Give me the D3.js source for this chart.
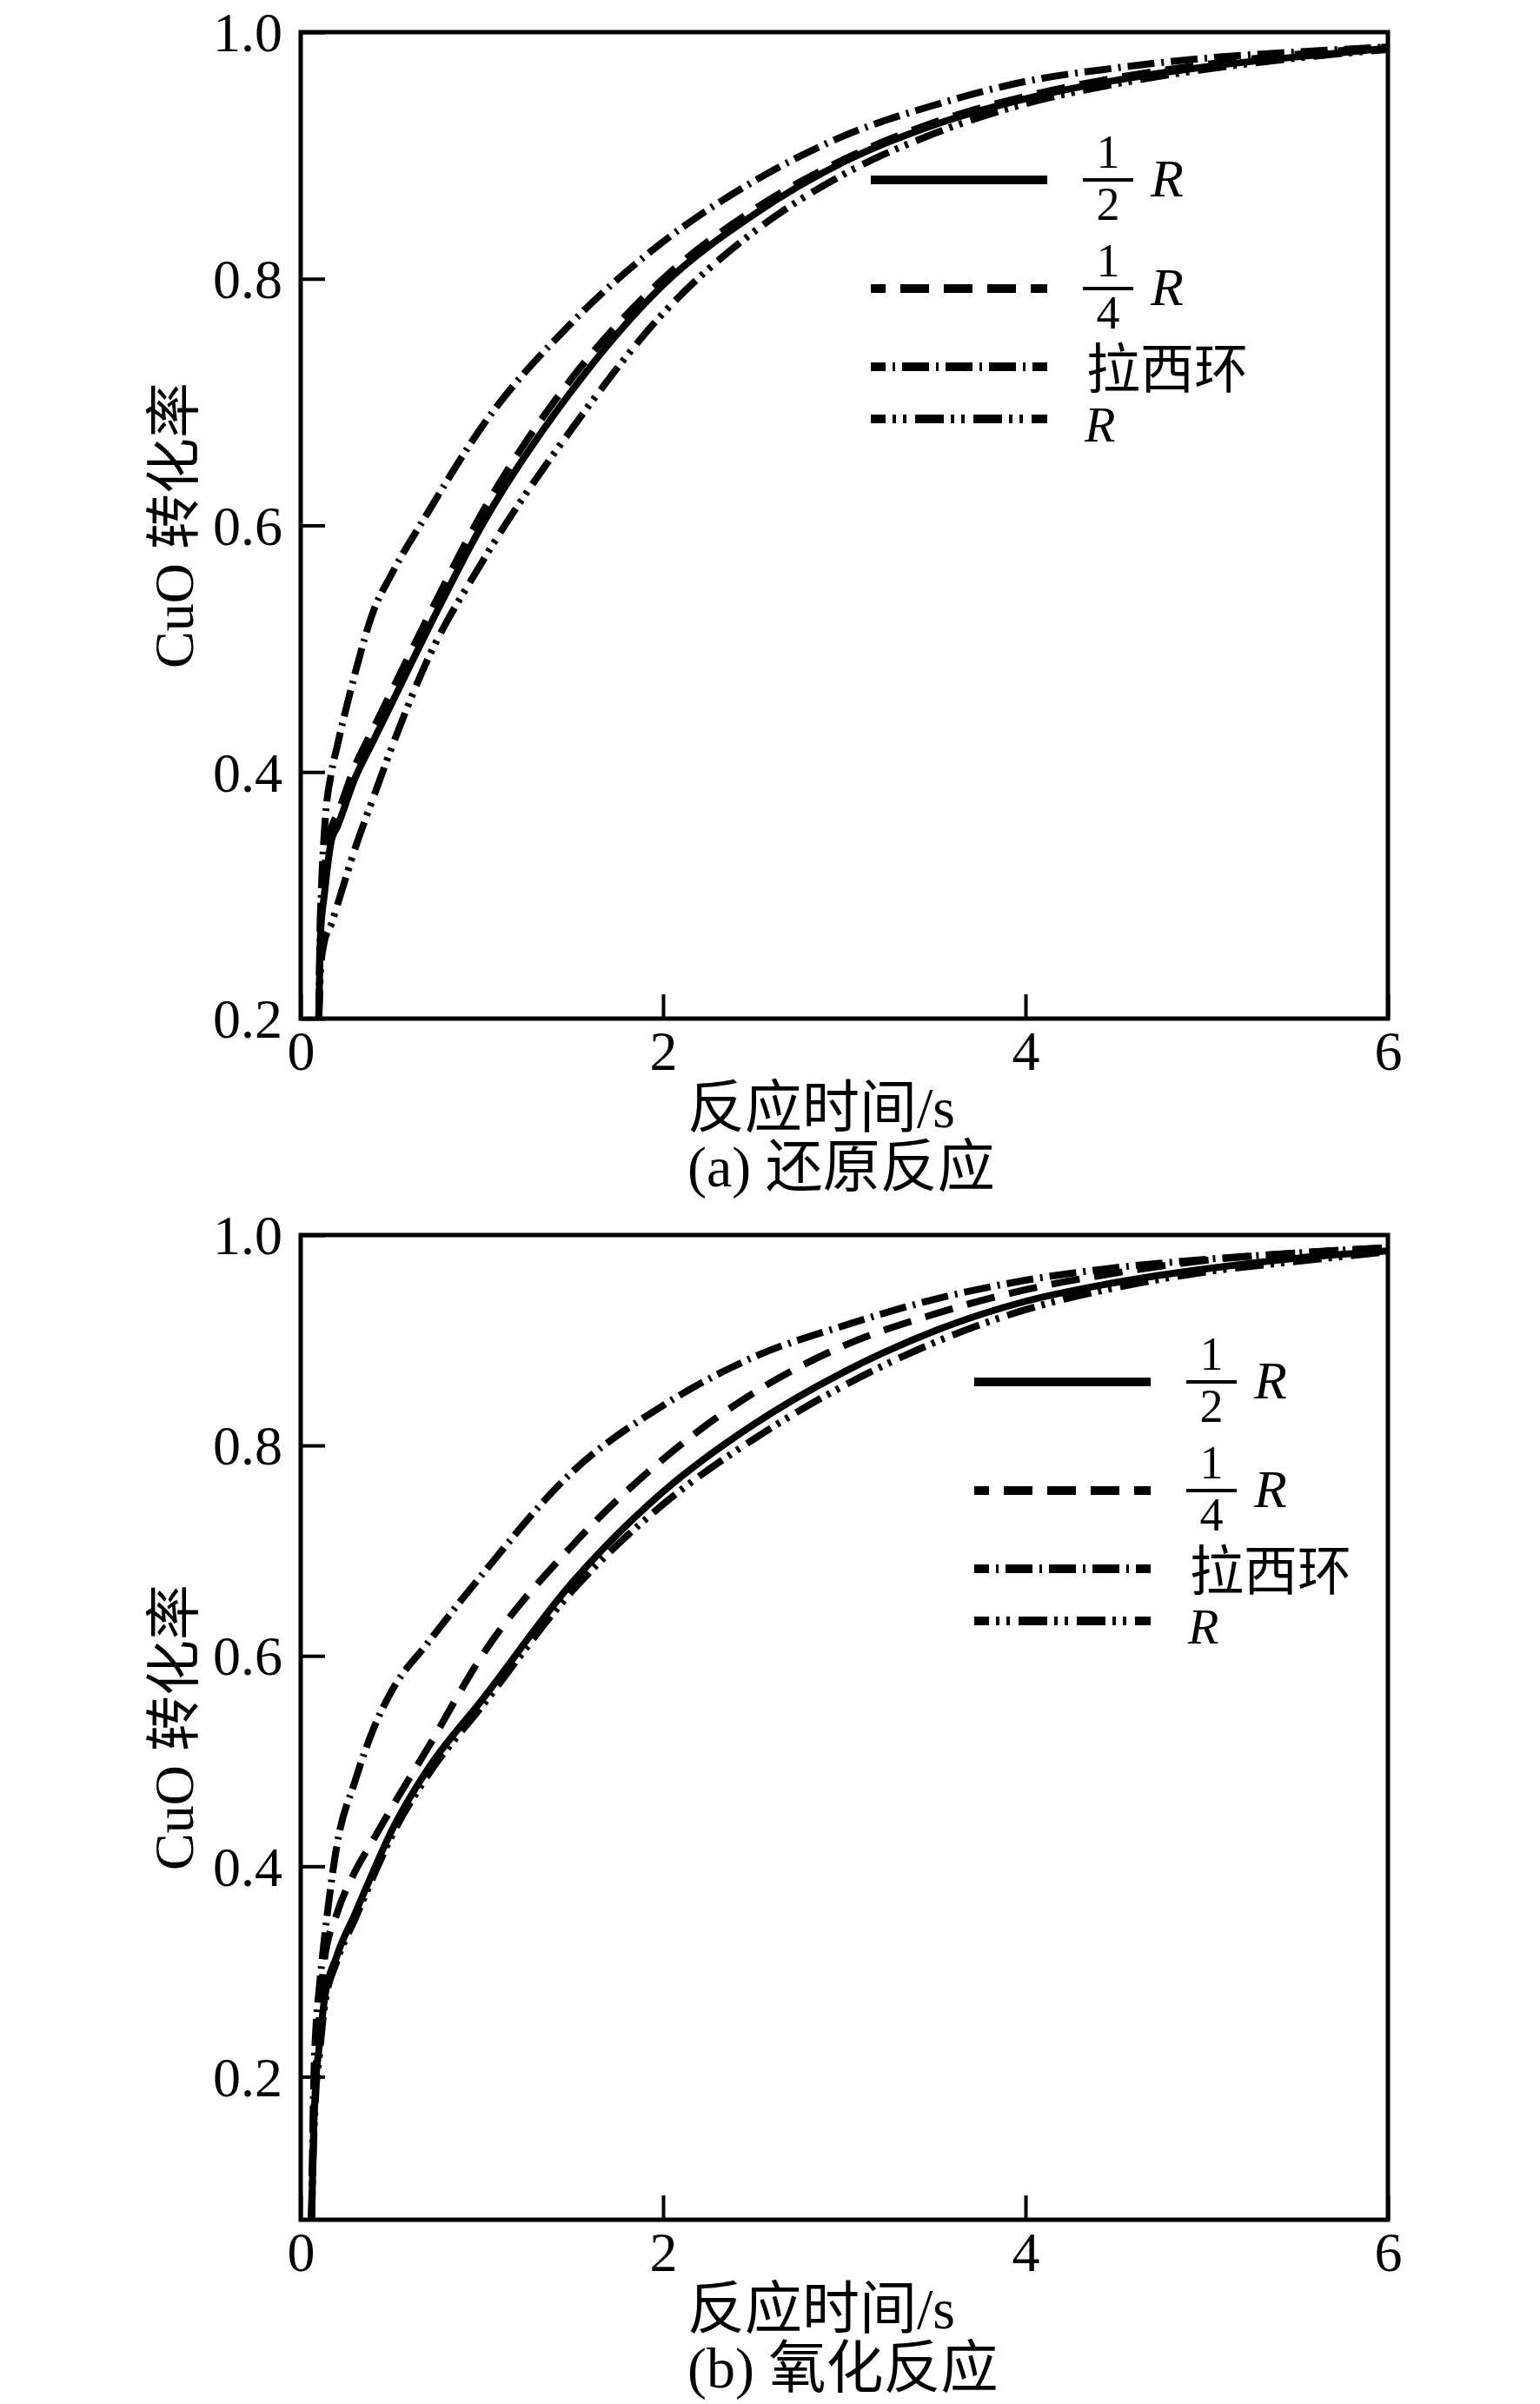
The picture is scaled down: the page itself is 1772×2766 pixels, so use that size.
<!DOCTYPE html>
<html>
<head>
<meta charset="utf-8">
<script src="https://cdn.jsdelivr.net/npm/d3@7"></script>
<style>
  body { margin: 0; background: #fff; }
  text { font-family: "Liberation Serif", "Times New Roman", "Noto Sans CJK SC", serif; fill: #000; }
</style>
</head>
<body>
<svg id="chart" width="1772" height="2766"></svg>
<script>
// ---- data ----
// (a) reduction
let timeA     = [0.1, 0.11, 0.13, 0.17, 0.2, 0.3, 0.4, 0.5, 0.7, 1.0, 1.5, 2.0, 2.5, 3.0, 3.5, 4.0, 4.5, 5.0, 5.5, 6.0];
let halfRA    = [0.2, 0.27, 0.30, 0.345, 0.355, 0.395, 0.425, 0.455, 0.515, 0.60, 0.71, 0.795, 0.852, 0.895, 0.925, 0.946, 0.961, 0.972, 0.980, 0.987];
let quarterRA = [0.2, 0.29, 0.32, 0.355, 0.365, 0.405, 0.435, 0.465, 0.525, 0.61, 0.72, 0.80, 0.856, 0.897, 0.927, 0.948, 0.963, 0.974, 0.982, 0.988];
let raschigA  = [0.2, 0.28, 0.35, 0.40, 0.42, 0.48, 0.53, 0.56, 0.61, 0.68, 0.765, 0.83, 0.879, 0.916, 0.941, 0.96, 0.971, 0.979, 0.984, 0.988];
let fullRA    = [0.2, 0.24, 0.262, 0.277, 0.291, 0.338, 0.379, 0.419, 0.491, 0.57, 0.679, 0.772, 0.838, 0.885, 0.918, 0.942, 0.958, 0.970, 0.979, 0.986];

// (b) oxidation
let timeB     = [0.06, 0.07, 0.085, 0.1, 0.13, 0.2, 0.3, 0.4, 0.5, 0.7, 1.0, 1.5, 2.0, 2.5, 3.0, 3.5, 4.0, 4.5, 5.0, 5.5, 6.0];
let halfRB    = [0.064, 0.14, 0.2, 0.225, 0.272, 0.315, 0.355, 0.395, 0.433, 0.492, 0.558, 0.67, 0.756, 0.82, 0.87, 0.909, 0.937, 0.955, 0.968, 0.978, 0.985];
let quarterRB = [0.064, 0.15, 0.21, 0.25, 0.31, 0.355, 0.395, 0.425, 0.455, 0.512, 0.60, 0.705, 0.787, 0.85, 0.895, 0.925, 0.948, 0.964, 0.976, 0.983, 0.988];
let raschigB  = [0.064, 0.18, 0.25, 0.28, 0.33, 0.42, 0.481, 0.53, 0.566, 0.612, 0.677, 0.775, 0.838, 0.884, 0.914, 0.939, 0.957, 0.969, 0.977, 0.983, 0.988];
let fullRB    = [0.064, 0.13, 0.19, 0.215, 0.265, 0.31, 0.35, 0.39, 0.428, 0.486, 0.552, 0.662, 0.744, 0.806, 0.857, 0.898, 0.929, 0.95, 0.965, 0.975, 0.984];

let xTicks = [0, 2, 4, 6];
let yTicks = [0.2, 0.4, 0.6, 0.8, 1.0];
let xLabel = "反应时间/s";
let yLabel = "CuO 转化率";
let captions = ["(a) 还原反应", "(b) 氧化反应"];

// line styles: 1/2R solid, 1/4R dashed, 拉西环 dash-dot, R dash-dot-dot
let styles = [
  { dash: null, offset: 0 },
  { dash: "33,17", offset: 16 },
  { dash: "31,8,3,8", offset: 14 },
  { dash: "33,8,4,8,4,10", offset: 16 }
];

let svg = d3.select("#chart");
let left = 346, right = 1597;

let panels = [
  { id: "a", top: 37, bottom: 1172, yMin: 0.2, time: timeA,
    series: [halfRA, quarterRA, raschigA, fullRA], legend: [1002, 207], caption: captions[0] },
  { id: "b", top: 1421, bottom: 2554, yMin: 0.064, time: timeB,
    series: [halfRB, quarterRB, raschigB, fullRB], legend: [1121, 1590], caption: captions[1] }
];

panels.forEach(p => {
  let x = d3.scaleLinear().domain([0, 6]).range([left, right]);
  let y = d3.scaleLinear().domain([p.yMin, 1.0]).range([p.bottom, p.top]);

  let g = svg.append("g").attr("id", "panel-" + p.id);

  g.append("clipPath").attr("id", "clip-" + p.id)
    .append("rect")
    .attr("x", left).attr("y", p.top)
    .attr("width", right - left).attr("height", p.bottom - p.top);

  // curves
  let line = d3.line()
    .x(d => x(d[0]))
    .y(d => y(d[1]))
    .curve(d3.curveMonotoneX);

  p.series.forEach((vals, i) => {
    let pts = p.time.map((t, k) => [t, vals[k]]);
    g.append("path")
      .datum(pts)
      .attr("clip-path", "url(#clip-" + p.id + ")")
      .attr("d", line)
      .attr("fill", "none")
      .attr("stroke", "#000")
      .attr("stroke-width", 8)
      .attr("stroke-dasharray", styles[i].dash);
  });

  // axes, ticks pointing inward
  let xAxis = d3.axisBottom(x).tickValues(xTicks).tickSize(-28).tickPadding(14)
    .tickFormat(d3.format("d"));
  let yAxis = d3.axisLeft(y).tickValues(yTicks).tickSize(-28).tickPadding(21)
    .tickFormat(d3.format(".1f"));

  let gx = g.append("g").attr("transform", "translate(0," + p.bottom + ")").call(xAxis);
  let gy = g.append("g").attr("transform", "translate(" + left + ",0)").call(yAxis);
  [gx, gy].forEach(a => {
    a.attr("font-family", null).attr("font-size", null);
    a.select(".domain").remove();
    a.selectAll(".tick line").attr("stroke", "#000").attr("stroke-width", 4);
    a.selectAll(".tick text")
      .style("font-family", '"Liberation Serif", "Times New Roman", serif')
      .style("font-size", "64px")
      .attr("fill", "#000");
  });
  gy.selectAll(".tick text").attr("dy", "0.34em");

  // frame
  g.append("rect")
    .attr("x", left).attr("y", p.top)
    .attr("width", right - left).attr("height", p.bottom - p.top)
    .attr("fill", "none").attr("stroke", "#000").attr("stroke-width", 5);

  // axis titles
  g.append("text")
    .attr("x", 791).attr("y", p.bottom + 125)
    .style("font-size", "66px")
    .text(xLabel);
  g.append("text")
    .attr("x", 791).attr("y", p.bottom + 193)
    .style("font-size", "66px")
    .text(p.caption);
  g.append("text")
    .attr("transform", "translate(200," + ((p.top + p.bottom) / 2) + ") rotate(-90)")
    .attr("text-anchor", "middle")
    .attr("dy", "0.35em")
    .style("font-size", "64px")
    .text(yLabel);

  // legend
  let lx = p.legend[0], ly = p.legend[1];
  let rowY = [0, 125, 215, 275];
  let lg = g.append("g").attr("transform", "translate(" + lx + "," + ly + ")");

  styles.forEach((s, i) => {
    lg.append("line")
      .attr("x1", 0).attr("x2", 203)
      .attr("y1", rowY[i]).attr("y2", rowY[i])
      .attr("stroke", "#000").attr("stroke-width", 10)
      .attr("stroke-dasharray", s.dash)
      .attr("stroke-dashoffset", s.offset);
  });

  // fractions 1/2 R and 1/4 R
  ["2", "4"].forEach((den, i) => {
    let fy = rowY[i];
    lg.append("text").attr("x", 273).attr("y", fy - 14)
      .attr("text-anchor", "middle").style("font-size", "54px").text("1");
    lg.append("line").attr("x1", 244).attr("x2", 302)
      .attr("y1", fy).attr("y2", fy)
      .attr("stroke", "#000").attr("stroke-width", 4);
    lg.append("text").attr("x", 273).attr("y", fy + 46)
      .attr("text-anchor", "middle").style("font-size", "54px").text(den);
    lg.append("text").attr("x", 322).attr("y", fy + 19)
      .style("font-size", "62px").style("font-style", "italic").text("R");
  });
  lg.append("text").attr("x", 248).attr("y", rowY[2] + 25)
    .style("font-size", "62px").text("拉西环");
  lg.append("text").attr("x", 246).attr("y", rowY[3] + 26)
    .style("font-size", "58px").style("font-style", "italic").text("R");
});
</script>
</body>
</html>
